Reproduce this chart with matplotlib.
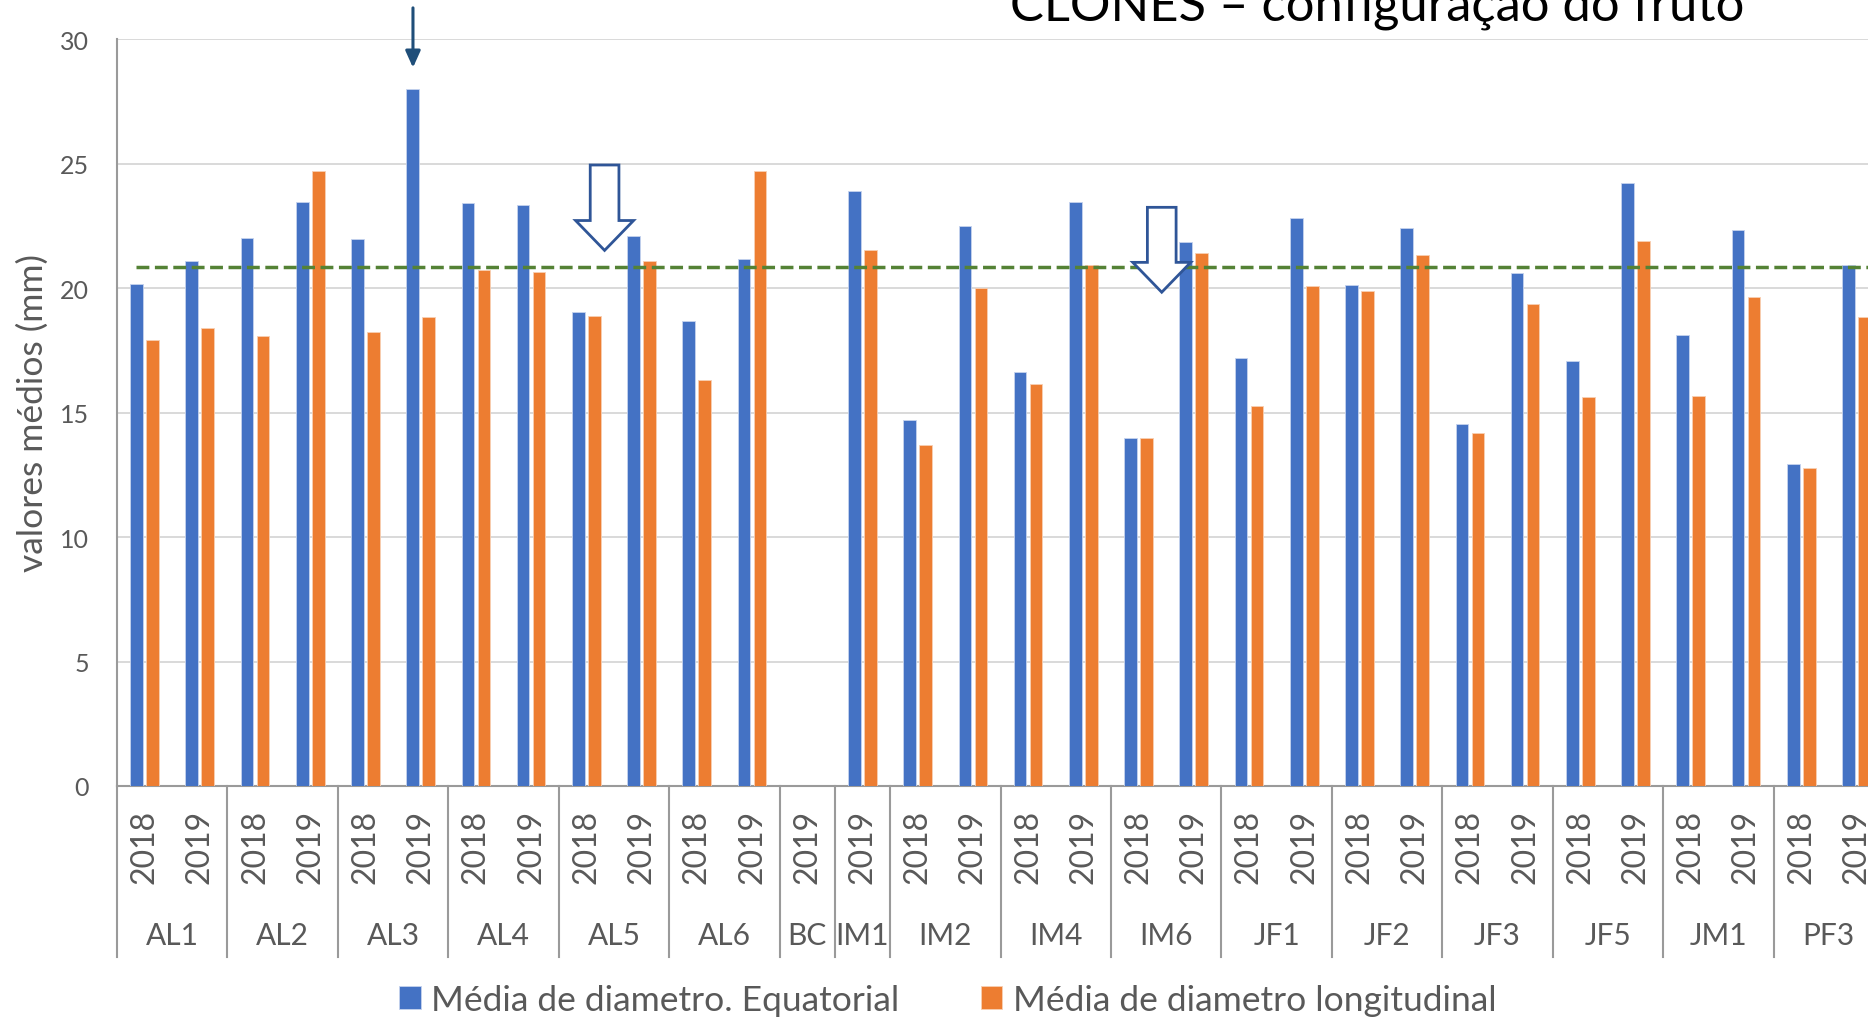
import numpy as np
import matplotlib.pyplot as plt
from matplotlib.patches import FancyArrow
from matplotlib.lines import Line2D

plt.rcParams['font.family'] = ['Lato', 'DejaVu Sans']

# clones e anos avaliados (BC e IM1 só têm 2019)
clones = ["AL1", "AL2", "AL3", "AL4", "AL5", "AL6", "BC", "IM1", "IM2", "IM4",
          "IM6", "JF1", "JF2", "JF3", "JF5", "JM1", "PF3"]
anos = [["2018", "2019"]] * 6 + [["2019"], ["2019"]] + [["2018", "2019"]] * 9

# diâmetros médios (mm), um valor por clone/ano
equatorial = [20.15, 21.07, 22.0, 23.44, 21.96, 28.0, 23.41, 23.33, 19.05, 22.1,
              18.69, 21.16, np.nan, 23.91, 14.71, 22.5, 16.63, 23.44, 13.99, 21.86,
              17.2, 22.81, 20.12, 22.42, 14.52, 20.6, 17.06, 24.2, 18.11, 22.34,
              12.93, 20.93]
longitudinal = [17.92, 18.39, 18.06, 24.69, 18.22, 18.84, 20.72, 20.65, 18.89, 21.1,
                16.29, 24.68, np.nan, 21.51, 13.7, 20.0, 16.15, 20.92, 13.99, 21.39,
                15.28, 20.08, 19.88, 21.32, 14.18, 19.36, 15.62, 21.9, 15.67, 19.65,
                12.76, 18.83]
media_geral = 20.85

# setas de destaque: (x, topo, ponta)
seta_cheia = (4.86, 31.25, 28.85)
setas_vazadas = [(8.33, 24.94, 21.51), (18.42, 23.24, 19.83)]

AZUL = "#4472C4"
LARANJA = "#ED7D31"
CINZA_TXT = "#595959"

fig = plt.figure(figsize=(18.68, 10.20), dpi=100)
ax = fig.add_axes([117 / 1868, 233 / 1020, 1767 / 1868, 747 / 1020])

x = np.arange(len(equatorial))
b1 = ax.bar(x - 0.145, equatorial, width=0.23, color=AZUL, zorder=3,
            edgecolor="#c5d3ee", linewidth=0.6)
b2 = ax.bar(x + 0.145, longitudinal, width=0.23, color=LARANJA, zorder=3,
            edgecolor="#f8cfb3", linewidth=0.6)

ax.plot([-0.15, 31.6], [media_geral, media_geral], color="#548235", lw=2.5,
        dashes=(3.7, 1.6), dash_capstyle="butt", zorder=4, clip_on=False)

ax.set_xlim(-0.5, 31.5)
ax.set_ylim(0, 30)
ax.set_yticks(range(0, 31, 5))
ax.tick_params(axis="y", length=0, pad=20, labelsize=18, labelcolor=CINZA_TXT)
ax.set_xticks([])
ax.grid(axis="y", color="#d9d9d9", lw=1.4, zorder=0)
for s in ["top", "right"]:
    ax.spines[s].set_visible(False)
for s in ["left", "bottom"]:
    ax.spines[s].set_color("#9a9a9a")
    ax.spines[s].set_linewidth(1.5)
ax.set_ylabel("valores médios (mm)", fontsize=25.5, color=CINZA_TXT, labelpad=8)

# eixo de categorias em dois níveis
tr = ax.get_xaxis_transform()
pos = 0
limites = [0]
for clone, grupo in zip(clones, anos):
    for k, ano in enumerate(grupo):
        ax.text(pos + k, -0.0803, ano, rotation=90, ha="center", va="center",
                fontsize=23, color=CINZA_TXT, transform=tr)
    ax.text(pos + (len(grupo) - 1) / 2, -0.1995, clone, ha="center", va="center",
            fontsize=21.5, color=CINZA_TXT, transform=tr)
    pos += len(grupo)
    limites.append(pos)
for b in limites:
    ax.add_line(Line2D([b - 0.5, b - 0.5], [0, -0.229], transform=tr,
                       color="#9a9a9a", lw=1.5, clip_on=False))

# setas
xs, y0, y1 = seta_cheia
ax.annotate("", xy=(xs, y1), xytext=(xs, y0),
            arrowprops=dict(arrowstyle="-|>,head_length=1.0,head_width=0.45",
                            color="#1F4E79", lw=2.2, shrinkA=0, shrinkB=0),
            annotation_clip=False, zorder=6)
for xs, y0, y1 in setas_vazadas:
    ax.add_patch(FancyArrow(xs, y0, 0, y1 - y0, width=0.52, head_width=1.05,
                            head_length=1.2, length_includes_head=True,
                            facecolor="white", edgecolor="#2F5597", lw=2,
                            zorder=6, clip_on=False))

fig.text(1010 / 1868, 1 - 21 / 1020, "CLONES – configuração do fruto",
         fontsize=36.5, color="black", ha="left", va="baseline")

fig.legend([b1, b2], ["Média de diametro. Equatorial", "Média de diametro longitudinal"],
           loc="center", bbox_to_anchor=(948 / 1868, 1 - 1001 / 1020), ncol=2,
           frameon=False, fontsize=25.5, handlelength=0.6, handleheight=0.6,
           handletextpad=0.3, columnspacing=2.3, labelcolor=CINZA_TXT)

fig.savefig("out.png", dpi=100)
